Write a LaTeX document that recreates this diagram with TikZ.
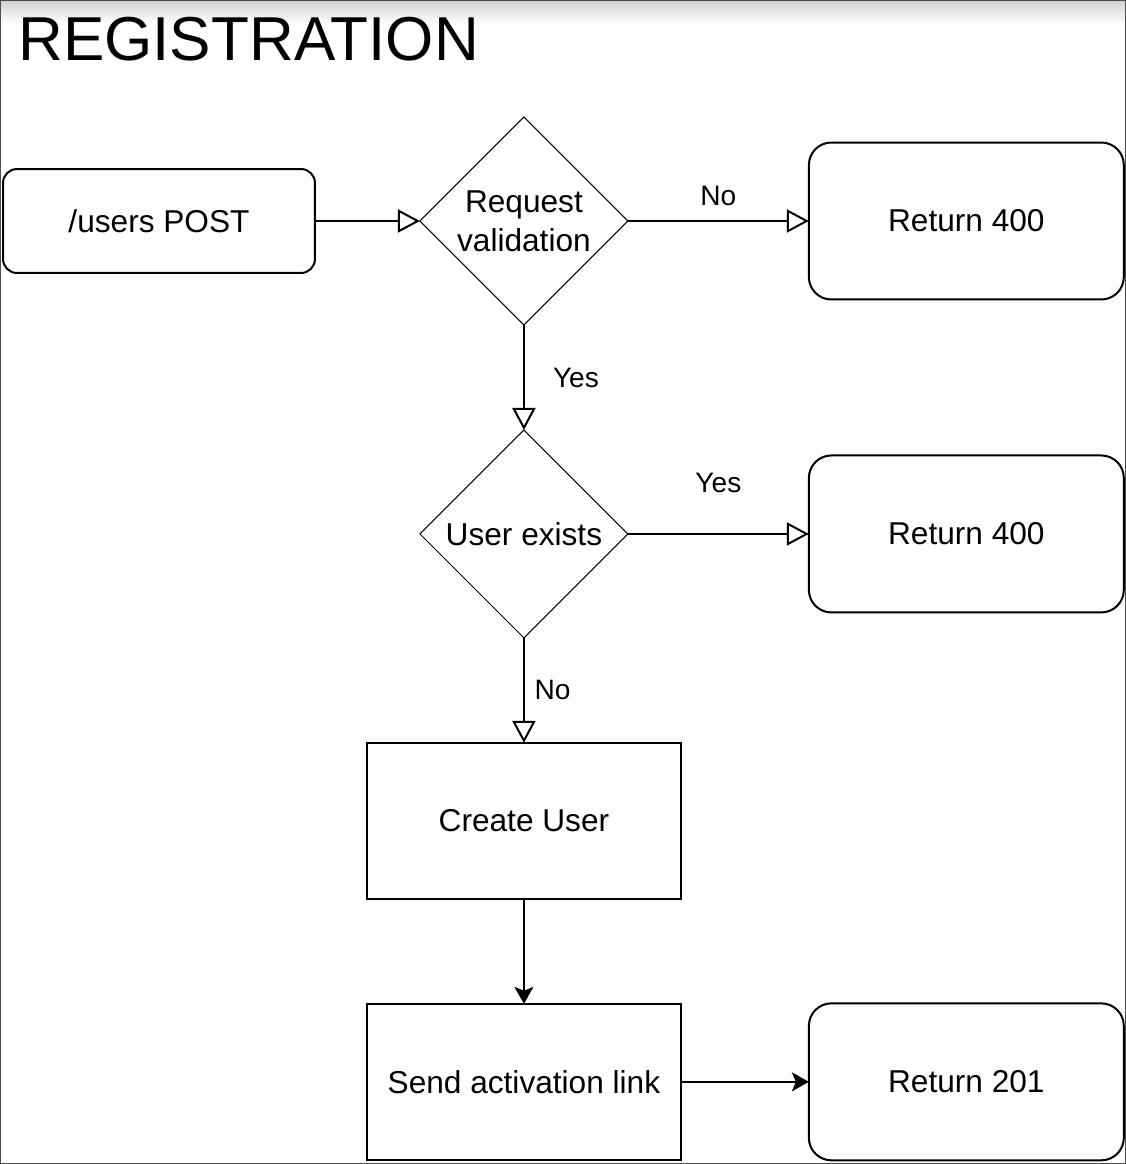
\documentclass[tikz,border=0pt]{standalone}
\usepackage{fontspec}
\setmainfont{Liberation Sans}
\usetikzlibrary{positioning,shapes.geometric,arrows.meta}

\tikzstyle{startstop} = [rectangle,rounded corners=0.28cm,minimum width=6.24cm,minimum height=2.08cm,outer sep=0pt,text centered,draw=black,line width=0.04cm,font=\fontsize{18}{21}\selectfont]
\tikzstyle{decision} = [diamond,aspect=1,minimum width=4.16cm,minimum height=4.16cm,inner sep=0pt,outer sep=0pt,align=center,draw=black,line width=0.6pt,font=\fontsize{18}{22}\selectfont]
\tikzstyle{process} = [rectangle,minimum width=6.28cm,minimum height=3.12cm,outer sep=0pt,text centered,draw=black,line width=0.04cm,font=\fontsize{18}{21}\selectfont]
\tikzstyle{result} = [rectangle,rounded corners=0.45cm,minimum width=6.3cm,minimum height=3.14cm,outer sep=0pt,text centered,draw=black,line width=0.04cm,font=\fontsize{18}{21}\selectfont]
\tikzstyle{openarrow} = [line width=0.04cm,-{Triangle[open,length=0.44cm,width=0.46cm]}]
\tikzstyle{arrow} = [line width=0.04cm,-{Stealth[length=0.34cm,width=0.38cm,inset=0.08cm]}]
\tikzstyle{answer} = [inner sep=0pt,font=\fontsize{16}{19}\selectfont]

\begin{document}
\begin{tikzpicture}[x=0.02cm,y=-0.02cm,node distance=2.1cm]
	\useasboundingbox (0,0) rectangle (1126,1164);
	% frame
	\shade[top color=gray!35,bottom color=white] (1,1) rectangle (1125,24);
	\draw[gray!60!black,line width=0.04cm] (0,0) rectangle (1126,1164);

	\node (title) [anchor=base west,inner sep=0pt,font=\fontsize{35.3}{40}\selectfont] at (18,60) {REGISTRATION};

	\node (users) [startstop] at (159,221) {/users POST};
	\node (validation) [decision, right=of users] {Request\\validation};
	\node (badrequest) [result, right=3.62cm of validation] {Return 400};
	\node (exists) [decision, below=of validation] {User exists};
	\node (conflict) [result, right=3.62cm of exists] {Return 400};
	\node (create) [process, below=of exists] {Create User};
	\node (activation) [process, below=of create] {Send activation link};
	\node (created) [result, right=2.56cm of activation] {Return 201};

	\draw [openarrow] (users) -- (validation);
	\draw [openarrow] (validation) -- node[answer, above=8pt] {No} (badrequest);
	\draw [openarrow] (validation) -- node[answer, right=16pt] {Yes} (exists);
	\draw [openarrow] (exists) -- node[answer, above=23pt] {Yes} (conflict);
	\draw [openarrow] (exists) -- node[answer, right=5.5pt] {No} (create);
	\draw [arrow] (create) -- (activation);
	\draw [arrow] (activation) -- (created);
\end{tikzpicture}
\end{document}
